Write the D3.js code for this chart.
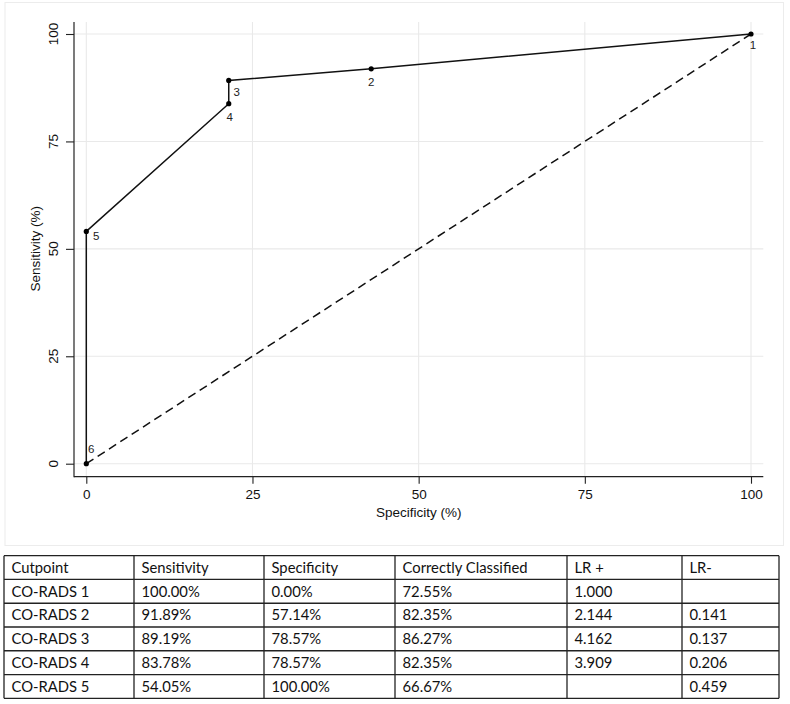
<!DOCTYPE html>
<html>
<head>
<meta charset="utf-8">
<script src="https://cdn.jsdelivr.net/npm/d3@7"></script>
<style>
  html, body { margin: 0; padding: 0; background: #fff; }
  svg { display: block; }
</style>
</head>
<body>
<svg id="chart" width="790" height="704"></svg>
<script>
// ---- data ----
const pointLabels = ["1", "2", "3", "4", "5", "6"];
const oneMinusSpec = [100, 42.86, 21.43, 21.43, 0, 0];   // x (%)
const sensitivity  = [100, 91.89, 89.19, 83.78, 54.05, 0]; // y (%)
const tickValues = [0, 25, 50, 75, 100];

const tableHeader = ["Cutpoint", "Sensitivity", "Specificity", "Correctly Classified", "LR +", "LR-"];
const cutpoints   = ["CO-RADS 1", "CO-RADS 2", "CO-RADS 3", "CO-RADS 4", "CO-RADS 5"];
const sensCol     = ["100.00%", "91.89%", "89.19%", "83.78%", "54.05%"];
const specCol     = ["0.00%", "57.14%", "78.57%", "78.57%", "100.00%"];
const correctCol  = ["72.55%", "82.35%", "86.27%", "82.35%", "66.67%"];
const lrPlusCol   = ["1.000", "2.144", "4.162", "3.909", ""];
const lrMinusCol  = ["", "0.141", "0.137", "0.206", "0.459"];

// ---- layout / style ----
const labelOffsets = [[2, 11], [0, 13], [8, 12], [1, 13], [10, 5], [5, -15]];
const colEdges = [4, 134, 264, 395, 567, 682, 779];
const tableTop = 555.7, tableBottom = 698.3;
const axisFont = "'Liberation Sans', Arial, Helvetica, sans-serif";
const tableFont = "Lato, 'Open Sans', sans-serif";

const svg = d3.select("#chart");

// faint outer box of the graph region
svg.append("rect")
  .attr("x", 5).attr("y", 2.5).attr("width", 778.5).attr("height", 543)
  .attr("fill", "none").attr("stroke", "#ececec").attr("stroke-width", 1);

const x = d3.scaleLinear().domain([0, 100]).range([86.3, 751]);
const y = d3.scaleLinear().domain([0, 100]).range([463.7, 34]);

const plotLeft = 74, plotRight = 763.3, plotTop = 22, plotBottom = 476.7;

// gridlines
const grid = svg.append("g").attr("stroke", "#e9e9e9").attr("stroke-width", 1.1);
grid.selectAll("line.h").data(tickValues).join("line")
  .attr("x1", plotLeft).attr("x2", plotRight)
  .attr("y1", d => y(d)).attr("y2", d => y(d));
grid.selectAll("line.v").data(tickValues).join("line")
  .attr("y1", plotTop).attr("y2", plotBottom)
  .attr("x1", d => x(d)).attr("x2", d => x(d));

// axes
const xAxis = d3.axisBottom(x).tickValues(tickValues).tickSize(7).tickPadding(6).tickFormat(d3.format("d"));
const gx = svg.append("g").attr("transform", `translate(0,${plotBottom})`).call(xAxis);
gx.select(".domain").remove();
gx.selectAll(".tick line").attr("stroke", "#222").attr("stroke-width", 1.1);
gx.selectAll(".tick text").attr("font-family", axisFont).attr("font-size", 13.5).attr("fill", "#111");

const yAxis = d3.axisLeft(y).tickValues(tickValues).tickSize(8).tickFormat("");
const gy = svg.append("g").attr("transform", `translate(${plotLeft},0)`).call(yAxis);
gy.select(".domain").remove();
gy.selectAll(".tick line").attr("stroke", "#222").attr("stroke-width", 1.1);

svg.append("g").selectAll("text").data(tickValues).join("text")
  .attr("transform", d => `translate(53,${y(d)}) rotate(-90)`)
  .attr("text-anchor", "middle").attr("dy", "0.35em")
  .attr("font-family", axisFont).attr("font-size", 13.5).attr("fill", "#111")
  .text(d => d);

// axis lines
svg.append("line").attr("x1", plotLeft).attr("x2", plotLeft).attr("y1", plotTop).attr("y2", plotBottom + 0.5)
  .attr("stroke", "#222").attr("stroke-width", 1.2);
svg.append("line").attr("x1", plotLeft).attr("x2", plotRight).attr("y1", plotBottom).attr("y2", plotBottom)
  .attr("stroke", "#222").attr("stroke-width", 1.2);

// axis titles
svg.append("text")
  .attr("transform", `translate(35,${y(50)}) rotate(-90)`)
  .attr("text-anchor", "middle").attr("dy", "0.35em")
  .attr("font-family", axisFont).attr("font-size", 13.5).attr("fill", "#111")
  .text("Sensitivity (%)");
svg.append("text")
  .attr("x", x(50)).attr("y", 517)
  .attr("text-anchor", "middle")
  .attr("font-family", axisFont).attr("font-size", 13.5).attr("fill", "#111")
  .text("Specificity (%)");

// reference diagonal
svg.append("path")
  .datum([0, 100])
  .attr("d", d3.line().x(d => x(d)).y(d => y(d)))
  .attr("fill", "none").attr("stroke", "#111").attr("stroke-width", 1.5)
  .attr("stroke-dasharray", "8.5,5");

// ROC curve
const pts = oneMinusSpec.map((v, i) => ({ x: v, y: sensitivity[i], label: pointLabels[i], off: labelOffsets[i] }));
svg.append("path")
  .datum(pts)
  .attr("d", d3.line().x(d => x(d.x)).y(d => y(d.y)))
  .attr("fill", "none").attr("stroke", "#111").attr("stroke-width", 1.5);

svg.append("g").selectAll("circle").data(pts).join("circle")
  .attr("cx", d => x(d.x)).attr("cy", d => y(d.y)).attr("r", 2.6).attr("fill", "#000");

svg.append("g").selectAll("text").data(pts).join("text")
  .attr("x", d => x(d.x) + d.off[0]).attr("y", d => y(d.y) + d.off[1])
  .attr("text-anchor", "middle").attr("dy", "0.35em")
  .attr("font-family", axisFont).attr("font-size", 11.5).attr("fill", "#222")
  .text(d => d.label);

// ---- table ----
const rows = [tableHeader].concat(cutpoints.map((c, i) => [c, sensCol[i], specCol[i], correctCol[i], lrPlusCol[i], lrMinusCol[i]]));
const rowScale = d3.scaleBand().domain(d3.range(rows.length)).range([tableTop, tableBottom]);

const tg = svg.append("g");
// horizontal lines
tg.selectAll("line.h").data(d3.range(rows.length + 1)).join("line")
  .attr("x1", colEdges[0]).attr("x2", colEdges[colEdges.length - 1])
  .attr("y1", i => tableTop + i * rowScale.bandwidth())
  .attr("y2", i => tableTop + i * rowScale.bandwidth())
  .attr("stroke", "#222").attr("stroke-width", 1.3);
// vertical lines
tg.selectAll("line.v").data(colEdges).join("line")
  .attr("x1", d => d).attr("x2", d => d)
  .attr("y1", tableTop).attr("y2", tableBottom)
  .attr("stroke", "#222").attr("stroke-width", 1.3);

rows.forEach((r, ri) => {
  tg.append("g").selectAll("text").data(r).join("text")
    .attr("x", (d, ci) => colEdges[ci] + 7.5)
    .attr("y", rowScale(ri) + rowScale.bandwidth() / 2)
    .attr("dy", "0.36em")
    .attr("font-family", tableFont).attr("font-size", 14.8).attr("fill", "#111")
    .text(d => d);
});
</script>
</body>
</html>
